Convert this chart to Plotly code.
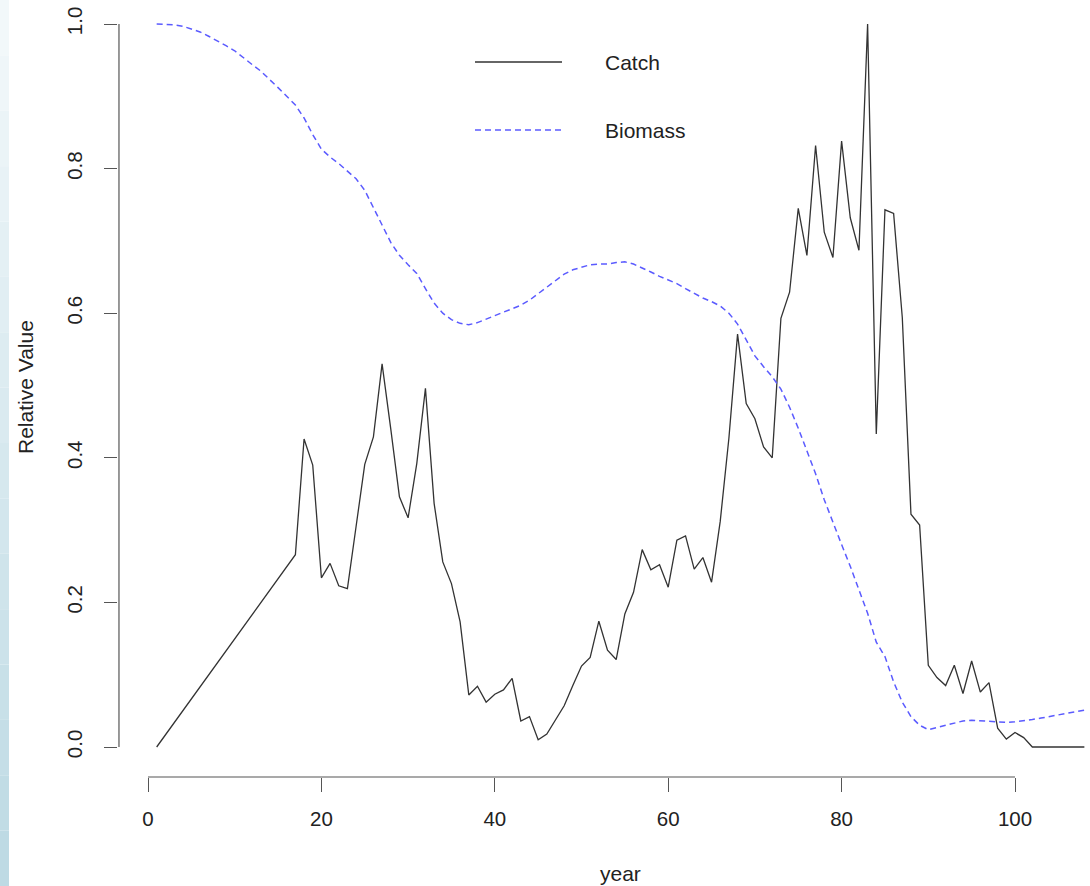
import plotly.graph_objects as go

# ---------------- data ----------------
catch_years = [1, 17, 18, 19, 20, 21, 22, 23, 24, 25, 26, 27, 28, 29, 30,
               31, 32, 33, 34, 35, 36, 37, 38, 39, 40, 41, 42, 43, 44, 45,
               46, 47, 48, 49, 50, 51, 52, 53, 54, 55, 56, 57, 58, 59, 60,
               61, 62, 63, 64, 65, 66, 67, 68, 69, 70, 71, 72, 73, 74, 75,
               76, 77, 78, 79, 80, 81, 82, 83, 84, 85, 86, 87, 88, 89, 90,
               91, 92, 93, 94, 95, 96, 97, 98, 99, 100, 101, 102, 103, 104,
               105, 106, 107, 108]
catch_values = [0.000, 0.266, 0.426, 0.390, 0.234, 0.254, 0.223, 0.219, 0.305,
                0.391, 0.429, 0.530, 0.440, 0.346, 0.317, 0.392, 0.496, 0.337,
                0.256, 0.226, 0.173, 0.072, 0.084, 0.062, 0.073, 0.079, 0.095,
                0.036, 0.042, 0.010, 0.018, 0.038, 0.057, 0.085, 0.112, 0.124,
                0.174, 0.134, 0.121, 0.184, 0.214, 0.273, 0.245, 0.252, 0.221,
                0.286, 0.292, 0.246, 0.262, 0.228, 0.312, 0.427, 0.571, 0.475,
                0.454, 0.415, 0.400, 0.593, 0.629, 0.745, 0.680, 0.832, 0.712,
                0.677, 0.838, 0.732, 0.687, 1.000, 0.433, 0.743, 0.738, 0.594,
                0.322, 0.307, 0.113, 0.096, 0.085, 0.113, 0.074, 0.119, 0.076,
                0.089, 0.026, 0.011, 0.020, 0.013, 0.000, 0.000, 0.000, 0.000,
                0.000, 0.000, 0.000]

biomass_years = list(range(1, 109))
biomass_values = [1.000, 1.000, 0.999, 0.997, 0.993, 0.989, 0.983, 0.977, 0.970, 0.963,
                  0.953, 0.944, 0.935, 0.924, 0.912, 0.900, 0.888, 0.870, 0.847, 0.827,
                  0.816, 0.807, 0.797, 0.786, 0.770, 0.747, 0.722, 0.698, 0.680, 0.667,
                  0.655, 0.634, 0.614, 0.600, 0.591, 0.586, 0.584, 0.587, 0.592, 0.597,
                  0.602, 0.606, 0.611, 0.618, 0.627, 0.637, 0.646, 0.654, 0.660, 0.664,
                  0.667, 0.668, 0.668, 0.670, 0.671, 0.668, 0.663, 0.657, 0.651, 0.646,
                  0.641, 0.634, 0.627, 0.621, 0.616, 0.610, 0.600, 0.585, 0.563, 0.541,
                  0.526, 0.512, 0.495, 0.470, 0.441, 0.410, 0.378, 0.342, 0.310, 0.280,
                  0.250, 0.218, 0.185, 0.145, 0.125, 0.090, 0.062, 0.042, 0.030, 0.024,
                  0.027, 0.030, 0.034, 0.036, 0.037, 0.036, 0.035, 0.034, 0.034, 0.035,
                  0.036, 0.038, 0.040, 0.042, 0.044, 0.046, 0.048, 0.051]

x_tick_vals = [0, 20, 40, 60, 80, 100]
y_tick_vals = [0.0, 0.2, 0.4, 0.6, 0.8, 1.0]
y_tick_text = ["0.0", "0.2", "0.4", "0.6", "0.8", "1.0"]
series_names = ["Catch", "Biomass"]

# ---------------- layout constants ----------------
W, H = 1090, 886
ML, MR, MT, MB = 118, 0, 0, 109
PW, PH = W - ML - MR, H - MT - MB
FONT = "Liberation Sans, Arial, Helvetica, sans-serif"
AXIS_COL = "#555555"
CATCH_COL = "#333333"
BIO_COL = "#5b5bff"


def px_x(px):
    return (px - ML) / PW


def px_y(py):
    return (H - MB - py) / PH


fig = go.Figure()
fig.add_trace(go.Scatter(x=catch_years, y=catch_values, mode="lines",
                         name=series_names[0],
                         line=dict(color=CATCH_COL, width=1.3),
                         showlegend=False))
fig.add_trace(go.Scatter(x=biomass_years, y=biomass_values, mode="lines",
                         name=series_names[1],
                         line=dict(color=BIO_COL, width=1.5, dash="6px,4px"),
                         showlegend=False))

shapes = []
# axis lines (R style, only spanning the tick range)
shapes.append(dict(type="line", xref="x", yref="paper", x0=x_tick_vals[0], x1=x_tick_vals[-1],
                   y0=0, y1=0, line=dict(color=AXIS_COL, width=1.2)))
shapes.append(dict(type="line", xref="paper", yref="y", x0=0.001, x1=0.001,
                   y0=y_tick_vals[0], y1=y_tick_vals[-1], line=dict(color=AXIS_COL, width=1.2)))

# legend samples
shapes.append(dict(type="line", xref="paper", yref="paper", x0=px_x(475), x1=px_x(562),
                   y0=px_y(62), y1=px_y(62), line=dict(color=CATCH_COL, width=1.3)))
shapes.append(dict(type="line", xref="paper", yref="paper", x0=px_x(475), x1=px_x(562),
                   y0=px_y(130), y1=px_y(130), line=dict(color=BIO_COL, width=1.5, dash="6px,4px")))

# left decorative gradient strip
n_seg = 16
top_rgb = (242, 248, 250)
bot_rgb = (190, 218, 228)
for i in range(n_seg):
    t = i / (n_seg - 1)
    c = tuple(int(round(a + (b - a) * t)) for a, b in zip(top_rgb, bot_rgb))
    shapes.append(dict(type="rect", xref="paper", yref="paper", layer="below",
                       x0=px_x(0), x1=px_x(9),
                       y0=px_y(H * (i + 1) / n_seg), y1=px_y(H * i / n_seg),
                       line=dict(width=0), fillcolor="rgb(%d,%d,%d)" % c))

annotations = [
    dict(text="Catch", xref="paper", yref="paper", x=px_x(603), y=px_y(63),
         xanchor="left", yanchor="middle", showarrow=False,
         font=dict(family=FONT, size=21, color="#222222")),
    dict(text="Biomass", xref="paper", yref="paper", x=px_x(603), y=px_y(131),
         xanchor="left", yanchor="middle", showarrow=False,
         font=dict(family=FONT, size=21, color="#222222")),
    dict(text="year", xref="paper", yref="paper", x=px_x(620), y=px_y(874),
         xanchor="center", yanchor="middle", showarrow=False,
         font=dict(family=FONT, size=21, color="#222222")),
    dict(text="Relative Value", xref="paper", yref="paper", x=px_x(25), y=px_y(387),
         xanchor="center", yanchor="middle", showarrow=False, textangle=-90,
         font=dict(family=FONT, size=21, color="#222222")),
]

fig.update_layout(
    width=W, height=H, autosize=False,
    margin=dict(l=ML, r=MR, t=MT, b=MB, pad=0),
    paper_bgcolor="white", plot_bgcolor="white",
    showlegend=False,
    shapes=shapes, annotations=annotations,
    font=dict(family=FONT, color="#222222"),
    xaxis=dict(range=[(ML - 148) / 8.67, (W - 148) / 8.67],
               tickmode="array", tickvals=x_tick_vals,
               ticks="outside", ticklen=14, tickwidth=1.2, tickcolor=AXIS_COL,
               showline=False, showgrid=False, zeroline=False,
               tickfont=dict(family=FONT, size=20.5, color="#222222"),
               ticklabelstandoff=9),
    yaxis=dict(range=[(747 - (H - MB)) / 723, 747 / 723],
               tickmode="array", tickvals=y_tick_vals, ticktext=y_tick_text,
               tickangle=-90,
               ticks="outside", ticklen=13, tickwidth=1.2, tickcolor=AXIS_COL,
               showline=False, showgrid=False, zeroline=False,
               tickfont=dict(family=FONT, size=20.5, color="#222222"),
               ticklabelstandoff=14),
)

fig.write_html("out.html")
